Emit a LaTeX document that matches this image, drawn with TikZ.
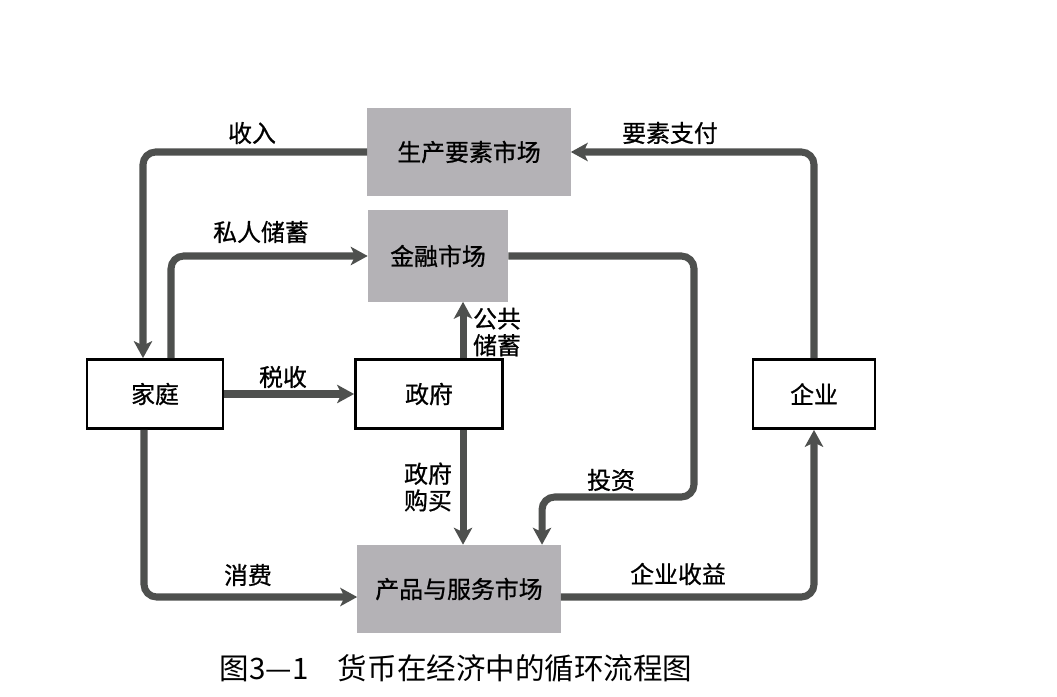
\documentclass[tikz,border=0pt]{standalone}
\usepackage{fontspec}
\usepackage{tikz}
\usetikzlibrary{arrows.meta, positioning, calc}
\setmainfont{Noto Sans CJK SC}
\newfontfamily\heavycjk{Noto Sans CJK SC}[FakeBold=0.8]
\definecolor{marketgray}{RGB}{180,178,182}
\definecolor{flowgray}{RGB}{78,80,78}

\begin{document}
\begin{tikzpicture}[
    x=0.025cm, y=-0.025cm,
    market/.style={rectangle, fill=marketgray, minimum width=5.075cm, minimum height=2.2cm, font=\heavycjk\fontsize{17}{20}\selectfont},
    agent/.style={rectangle, draw, line width=2pt, fill=white, minimum height=1.725cm, font=\heavycjk\fontsize{17}{20}\selectfont},
    flow/.style={draw=flowgray, line width=5pt, rounded corners=9pt, -{Stealth[length=12pt, width=13pt, inset=3pt]}},
    lbl/.style={font=\heavycjk\fontsize{17}{19}\selectfont, align=center, inner sep=0pt}
]
    \useasboundingbox (0,0) rectangle (1057,696);

    \node [market] (factor) at (469,152) {生产要素市场};
    \node [market, minimum width=3.5cm, minimum height=2.275cm] (finance) at (438,256) {金融市场};
    \node [market] (product) at (459,589) {产品与服务市场};

    \node [agent, minimum width=3.4cm] (home) at (155,394) {家庭};
    \node [agent, minimum width=3.675cm] (gov) at (429,394) {政府};
    \node [agent, minimum width=3.05cm] (firm) at (814,394) {企业};

    \coordinate (invbend) at (694,497);

    \draw [flow] (factor.west) -| ([xshift=-0.3cm]home.north);
    \draw [flow] (firm.north) |- (factor.east);
    \draw [flow] ([xshift=0.4cm]home.north) |- (finance.west);
    \draw [flow] (home.east) -- (gov.west);
    \draw [flow] ([xshift=0.85cm]gov.north) -- ([xshift=0.85cm]gov.north |- finance.south);
    \draw [flow] ([xshift=0.85cm]gov.south) -- ([xshift=0.85cm]gov.south |- product.north);
    \draw [flow] (finance.east) -| (invbend) -| ([xshift=2.075cm]product.north);
    \draw [flow] ([xshift=-0.275cm]home.south) |- ([yshift=-0.2cm]product.west);
    \draw [flow] ([yshift=-0.2cm]product.east) -| (firm.south);

    \node [lbl] (income) at (252,133) {收入};
    \node [lbl] (factorpay) at (670,133) {要素支付};
    \node [lbl] (saving) at (261,232) {私人储蓄};
    \node [lbl] (tax) at (283,377) {税收};
    \node [lbl] (pubsave) at (497,332) {公共\\储蓄};
    \node [lbl] (govbuy) at (428,487) {政府\\购买};
    \node [lbl] (invest) at (611,480) {投资};
    \node [lbl] (consume) at (248,575) {消费};
    \node [lbl] (revenue) at (678,574) {企业收益};

    \node [font=\fontsize{21}{24}\selectfont] (caption) at (456,668) {图3—1\quad 货币在经济中的循环流程图};
\end{tikzpicture}
\end{document}
